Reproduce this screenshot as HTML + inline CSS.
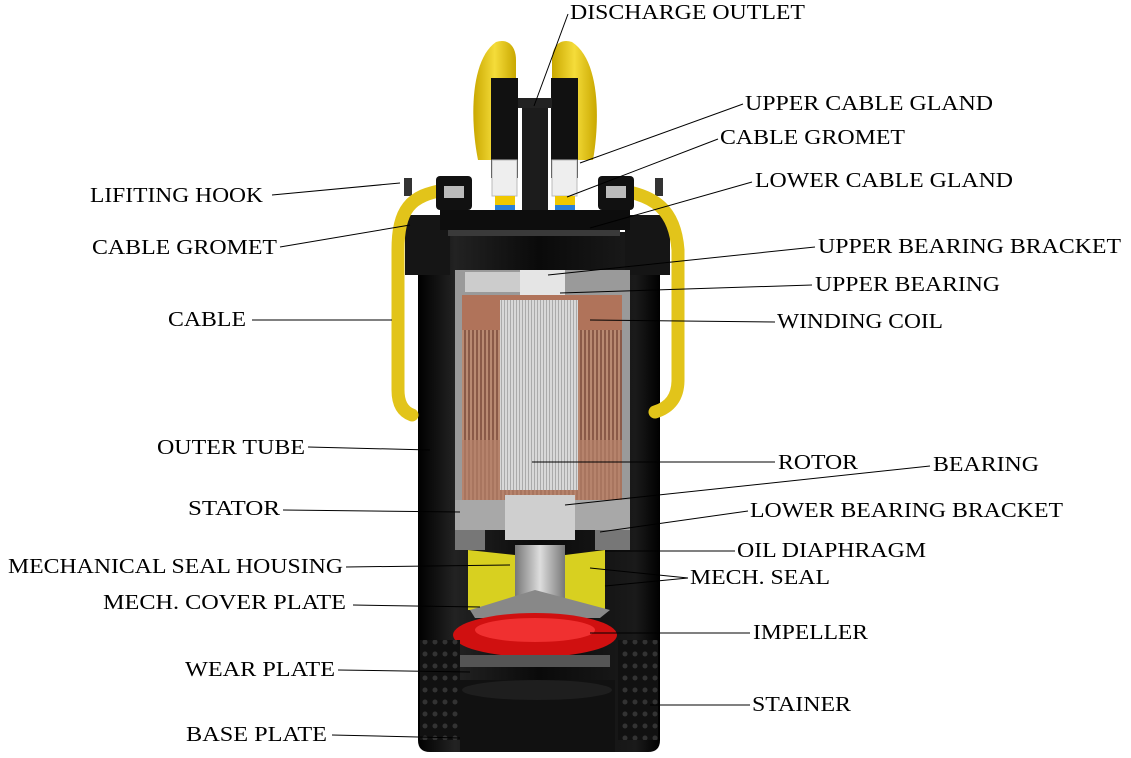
<!DOCTYPE html>
<html><head><meta charset="utf-8"><style>
html,body{margin:0;padding:0;background:#fff;}
svg{display:block;}
text{font-family:"Liberation Serif",serif;font-size:21px;fill:#000;}
</style></head><body>
<svg width="1131" height="758" viewBox="0 0 1131 758" xmlns="http://www.w3.org/2000/svg">
<defs>
<linearGradient id="tube" x1="0" x2="1"><stop offset="0" stop-color="#000"/><stop offset="0.15" stop-color="#222"/><stop offset="0.5" stop-color="#0a0a0a"/><stop offset="0.9" stop-color="#1a1a1a"/><stop offset="1" stop-color="#000"/></linearGradient>
<pattern id="cu" width="4" height="6" patternUnits="userSpaceOnUse"><rect width="4" height="6" fill="#b98a72"/><rect width="2" height="6" fill="#8a5a48"/></pattern>
<pattern id="rot" width="3" height="6" patternUnits="userSpaceOnUse"><rect width="3" height="6" fill="#d8d8d8"/><rect width="1" height="6" fill="#aaa"/></pattern>
<pattern id="holes" width="10" height="12" patternUnits="userSpaceOnUse"><rect width="10" height="12" fill="#111"/><circle cx="5" cy="6" r="2.5" fill="#333"/></pattern>
<linearGradient id="yel" x1="0" x2="1"><stop offset="0" stop-color="#c9a800"/><stop offset="0.5" stop-color="#f5dc3a"/><stop offset="1" stop-color="#c9a800"/></linearGradient>
<linearGradient id="grey" x1="0" x2="1"><stop offset="0" stop-color="#777"/><stop offset="0.5" stop-color="#ddd"/><stop offset="1" stop-color="#777"/></linearGradient>
</defs>

<path d="M478 160 C470 120 470 60 496 42 C508 38 516 46 516 60 L516 160 Z" fill="url(#yel)"/>
<path d="M593 160 C600 120 600 60 572 42 C560 38 552 46 552 60 L552 160 Z" fill="url(#yel)"/>
<rect x="491" y="78" width="27" height="100" fill="#111"/>
<rect x="551" y="78" width="27" height="100" fill="#111"/>
<rect x="518" y="98" width="34" height="10" fill="#222"/>
<rect x="522" y="108" width="26" height="110" fill="#1c1c1c"/>
<rect x="492" y="160" width="25" height="36" fill="#eee" stroke="#bbb"/>
<rect x="552" y="160" width="25" height="36" fill="#eee" stroke="#bbb"/>
<rect x="495" y="196" width="20" height="9" fill="#f0c800"/>
<rect x="555" y="196" width="20" height="9" fill="#f0c800"/>
<rect x="495" y="205" width="20" height="12" fill="#2a7fd8"/>
<rect x="555" y="205" width="20" height="12" fill="#2a7fd8"/>
<rect x="404" y="178" width="8" height="18" fill="#333"/>
<rect x="655" y="178" width="8" height="18" fill="#333"/>

<path d="M418 232 L660 232 L660 740 Q660 752 648 752 L430 752 Q418 752 418 740 Z" fill="url(#tube)"/>
<rect x="405" y="215" width="45" height="60" fill="#151515"/>
<rect x="625" y="215" width="45" height="60" fill="#151515"/>
<rect x="448" y="228" width="172" height="8" fill="#3a3a3a"/>
<rect x="440" y="210" width="190" height="20" fill="#0d0d0d"/>
<rect x="455" y="270" width="175" height="250" fill="#9a9a9a"/>
<rect x="465" y="272" width="90" height="20" fill="#ccc"/>
<rect x="520" y="270" width="45" height="30" fill="#e5e5e5"/>
<rect x="462" y="295" width="160" height="50" fill="#b0735a"/>
<rect x="462" y="330" width="160" height="170" fill="url(#cu)"/>
<rect x="462" y="440" width="160" height="60" fill="#b5806a" opacity="0.7"/>
<rect x="500" y="300" width="78" height="190" fill="url(#rot)"/>
<rect x="455" y="500" width="175" height="30" fill="#a8a8a8"/>
<rect x="505" y="495" width="70" height="45" fill="#cfcfcf"/>
<rect x="455" y="530" width="30" height="20" fill="#777"/>
<rect x="595" y="530" width="35" height="20" fill="#777"/>
<path d="M468 550 L515 555 L515 612 L468 610 Z" fill="#d8d020"/>
<path d="M565 555 L605 550 L605 610 L565 612 Z" fill="#d8d020"/>
<rect x="515" y="545" width="50" height="60" fill="url(#grey)"/>
<path d="M470 610 L535 590 L610 610 L600 618 L475 618 Z" fill="#888"/>
<ellipse cx="535" cy="635" rx="82" ry="22" fill="#d01010"/>
<ellipse cx="535" cy="630" rx="60" ry="12" fill="#f03030"/>
<rect x="460" y="655" width="150" height="12" fill="#555"/>
<rect x="420" y="640" width="40" height="100" fill="url(#holes)"/>
<rect x="618" y="640" width="40" height="100" fill="url(#holes)"/>
<path d="M460 680 L615 680 L615 752 L460 752 Z" fill="#111"/>
<ellipse cx="537" cy="690" rx="75" ry="10" fill="#1e1e1e"/>

<path d="M445 190 C410 195 398 210 398 250 L398 390 Q398 410 412 415" fill="none" stroke="#e2c41a" stroke-width="13" stroke-linecap="round"/>
<path d="M618 190 C655 195 675 210 678 250 L678 380 Q678 405 655 412" fill="none" stroke="#e2c41a" stroke-width="13" stroke-linecap="round"/>
<rect x="436" y="176" width="36" height="34" rx="4" fill="#111"/>
<rect x="598" y="176" width="36" height="34" rx="4" fill="#111"/>
<rect x="444" y="186" width="20" height="12" fill="#bbb"/>
<rect x="606" y="186" width="20" height="12" fill="#bbb"/>

<g stroke="#000" stroke-width="1" fill="none">
<line x1="568" y1="14" x2="534" y2="106"/>
<line x1="743" y1="104" x2="580" y2="163"/>
<line x1="718" y1="139" x2="567" y2="197"/>
<line x1="752" y1="182" x2="590" y2="228"/>
<line x1="815" y1="247" x2="548" y2="275"/>
<line x1="812" y1="285" x2="560" y2="293"/>
<line x1="775" y1="322" x2="590" y2="320"/>
<line x1="775" y1="462" x2="532" y2="462"/>
<line x1="930" y1="466" x2="565" y2="505"/>
<line x1="748" y1="511" x2="600" y2="532"/>
<line x1="735" y1="551" x2="605" y2="551"/>
<line x1="688" y1="578" x2="590" y2="568"/>
<line x1="688" y1="578" x2="605" y2="586"/>
<line x1="750" y1="633" x2="590" y2="633"/>
<line x1="750" y1="705" x2="650" y2="705"/>
<line x1="272" y1="195" x2="400" y2="183"/>
<line x1="280" y1="247" x2="410" y2="225"/>
<line x1="252" y1="320" x2="392" y2="320"/>
<line x1="308" y1="447" x2="430" y2="450"/>
<line x1="283" y1="510" x2="460" y2="512"/>
<line x1="346" y1="567" x2="510" y2="565"/>
<line x1="353" y1="605" x2="480" y2="607"/>
<line x1="338" y1="670" x2="470" y2="672"/>
<line x1="332" y1="735" x2="460" y2="738"/>
</g>

<g lengthAdjust="spacingAndGlyphs">
<text x="570" y="19" textLength="235" lengthAdjust="spacingAndGlyphs">DISCHARGE OUTLET</text>
<text x="745" y="110" textLength="248" lengthAdjust="spacingAndGlyphs">UPPER CABLE GLAND</text>
<text x="720" y="144" textLength="185" lengthAdjust="spacingAndGlyphs">CABLE GROMET</text>
<text x="755" y="187" textLength="258" lengthAdjust="spacingAndGlyphs">LOWER CABLE GLAND</text>
<text x="818" y="253" textLength="303" lengthAdjust="spacingAndGlyphs">UPPER BEARING BRACKET</text>
<text x="815" y="291" textLength="185" lengthAdjust="spacingAndGlyphs">UPPER BEARING</text>
<text x="777" y="328" textLength="166" lengthAdjust="spacingAndGlyphs">WINDING COIL</text>
<text x="778" y="469" textLength="80" lengthAdjust="spacingAndGlyphs">ROTOR</text>
<text x="933" y="471" textLength="106" lengthAdjust="spacingAndGlyphs">BEARING</text>
<text x="750" y="517" textLength="313" lengthAdjust="spacingAndGlyphs">LOWER BEARING BRACKET</text>
<text x="737" y="557" textLength="189" lengthAdjust="spacingAndGlyphs">OIL DIAPHRAGM</text>
<text x="690" y="584" textLength="140" lengthAdjust="spacingAndGlyphs">MECH. SEAL</text>
<text x="753" y="639" textLength="115" lengthAdjust="spacingAndGlyphs">IMPELLER</text>
<text x="752" y="711" textLength="99" lengthAdjust="spacingAndGlyphs">STAINER</text>
<text x="90" y="202" textLength="173" lengthAdjust="spacingAndGlyphs">LIFITING HOOK</text>
<text x="92" y="254" textLength="185" lengthAdjust="spacingAndGlyphs">CABLE GROMET</text>
<text x="168" y="326" textLength="78" lengthAdjust="spacingAndGlyphs">CABLE</text>
<text x="157" y="454" textLength="148" lengthAdjust="spacingAndGlyphs">OUTER TUBE</text>
<text x="188" y="515" textLength="92" lengthAdjust="spacingAndGlyphs">STATOR</text>
<text x="8" y="573" textLength="335" lengthAdjust="spacingAndGlyphs">MECHANICAL SEAL HOUSING</text>
<text x="103" y="609" textLength="243" lengthAdjust="spacingAndGlyphs">MECH. COVER PLATE</text>
<text x="185" y="676" textLength="150" lengthAdjust="spacingAndGlyphs">WEAR PLATE</text>
<text x="186" y="741" textLength="141" lengthAdjust="spacingAndGlyphs">BASE PLATE</text>
</g>
</svg>
</body></html>
